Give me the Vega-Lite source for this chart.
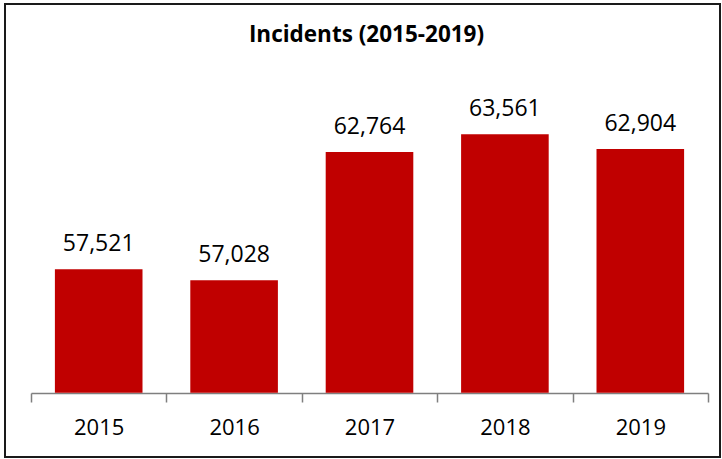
{
  "$schema": "https://vega.github.io/schema/vega-lite/v6.json",
  "autosize": "none",
  "width": 715,
  "height": 453,
  "padding": {"left": 5, "top": 4, "right": 2, "bottom": 2},
  "title": {
    "text": "Incidents (2015-2019)",
    "anchor": "middle",
    "orient": "top",
    "baseline": "alphabetic",
    "offset": -60,
    "dx": 4,
    "font": "Open Sans",
    "fontSize": 22.5,
    "fontWeight": "bold",
    "color": "#000000"
  },
  "data": {
    "values": [
      {"year": "2015", "incidents": 57521},
      {"year": "2016", "incidents": 57028},
      {"year": "2017", "incidents": 62764},
      {"year": "2018", "incidents": 63561},
      {"year": "2019", "incidents": 62904}
    ]
  },
  "encoding": {
    "x": {
      "field": "year",
      "type": "ordinal",
      "scale": {"range": [26, 703], "paddingInner": 0, "paddingOuter": 0},
      "axis": {
        "title": null,
        "orient": "bottom",
        "offset": -64,
        "labelAngle": 0,
        "tickBand": "extent",
        "domainColor": "#7f7f7f",
        "domainWidth": 1.5,
        "tickColor": "#7f7f7f",
        "tickWidth": 1.5,
        "tickSize": 9,
        "labelPadding": 15,
        "labelFont": "Open Sans",
        "labelFontSize": 22,
        "labelColor": "#000000"
      }
    },
    "y": {
      "field": "incidents",
      "type": "quantitative",
      "scale": {"domain": [52000, 66000], "range": [388.7, 75.8], "zero": false},
      "axis": null
    }
  },
  "layer": [
    {
      "mark": {"type": "bar", "color": "#C00000", "width": {"band": 0.647}, "clip": false},
      "encoding": {"y2": {"datum": 52000}}
    },
    {
      "mark": {
        "type": "text",
        "baseline": "alphabetic",
        "dy": -18,
        "font": "Open Sans",
        "fontSize": 23,
        "color": "#000000"
      },
      "encoding": {"text": {"field": "incidents", "type": "quantitative", "format": ","}}
    }
  ],
  "config": {
    "view": {"stroke": "#1a1a1a", "strokeWidth": 2},
    "background": "#ffffff"
  }
}
